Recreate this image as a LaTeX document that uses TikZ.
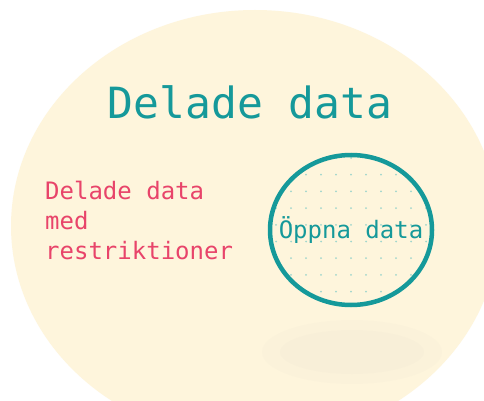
\documentclass[tikz,border=0pt]{standalone}
\usepackage{fontspec}
\setmonofont{DejaVu Sans Mono}
\usepackage{tikz}
\usetikzlibrary{positioning,shapes.geometric}
\definecolor{cream}{HTML}{FEF5DC}
\definecolor{tealdark}{HTML}{15999A}
\definecolor{rosered}{HTML}{E8446A}
\definecolor{dotteal}{HTML}{A0D6CC}

\begin{document}
\begin{tikzpicture}[x=1pt, y=-1pt,
        title/.style={font=\ttfamily\fontsize{43}{43}\selectfont, text=tealdark, inner sep=0pt},
        label/.style={font=\ttfamily\fontsize{24}{30}\selectfont, inner sep=0pt},
        opendata/.style={ellipse, draw=tealdark, line width=4.5pt, minimum width=162pt, minimum height=150pt, inner sep=0pt},
    ]
        \useasboundingbox (0,0) rectangle (484,401);
        \fill[white] (0,0) rectangle (484,401);

        % Outer set: shared data
        \begin{scope}
            \clip (0,0) rectangle (484,401);
            \fill[cream] (255,226) ellipse [x radius=244, y radius=216];
            % soft shadow below the inner circle
            \fill[black!30, opacity=0.03] (352,352) ellipse [x radius=90, y radius=32];
            \fill[black!30, opacity=0.03] (352,352) ellipse [x radius=72, y radius=22];
        \end{scope}
        \node[title] (shared) at (250,102) {Delade data};
        \node[label, text=rosered, align=left, anchor=north west] (restricted) at (45,181) {Delade data\\med\\restriktioner};

        % Inner set: open data
        \begin{scope}
            \clip (351,230) ellipse [x radius=81, y radius=75];
            \foreach \i in {0,...,11}
                \foreach \j in {0,...,10}
                    \fill[dotteal] (276+15*\i,158+16.7*\j) circle (1);
        \end{scope}
        \node[opendata] (open) at (351,230) {};
        \node[label, text=tealdark] (opentext) at (open.center) {Öppna data};
    \end{tikzpicture}
\end{document}
